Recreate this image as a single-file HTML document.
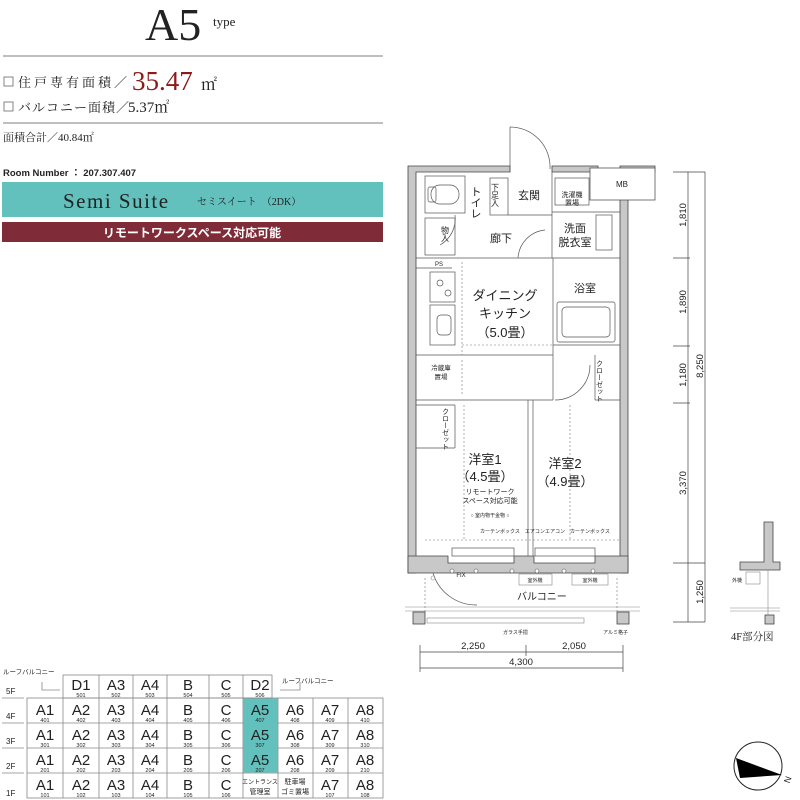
<!DOCTYPE html>
<html><head><meta charset="utf-8"><style>
body{margin:0;background:#fff}
svg{display:block}
text{font-family:"Liberation Sans","Noto Sans CJK JP",sans-serif;fill:#222}
.s{font-family:"Liberation Serif","Noto Serif CJK SC",serif}
.w{fill:#c8c8c8;stroke:#444;stroke-width:.8}
.l{stroke:#555;stroke-width:.7;fill:none}
.d{stroke:#777;stroke-width:.6;fill:none;stroke-dasharray:2 2}
.g{stroke:#888;stroke-width:.6;fill:none}
</style></head><body>
<svg width="800" height="800" viewBox="0 0 800 800" xmlns="http://www.w3.org/2000/svg">
<!-- header -->
<text x="145" y="40" class="s" font-size="46" fill="#222">A5</text>
<text x="213" y="26" class="s" font-size="13">type</text>
<line x1="3" y1="56" x2="383" y2="56" stroke="#999" stroke-width="1.2"/>
<rect x="4" y="77" width="9" height="9" fill="none" stroke="#666" stroke-width=".8"/>
<text x="18" y="87" class="s" font-size="13" letter-spacing="3">住戸専有面積／</text>
<text x="132" y="90" class="s" font-size="27" style="fill:#8b1a1a">35.47</text>
<text x="201" y="90" class="s" font-size="16">㎡</text>
<rect x="4" y="102" width="9" height="9" fill="none" stroke="#666" stroke-width=".8"/>
<text x="18" y="112" class="s" font-size="13" letter-spacing="1">バルコニー面積／</text>
<text x="128" y="112" class="s" font-size="15">5.37㎡</text>
<line x1="3" y1="123" x2="383" y2="123" stroke="#999" stroke-width="1.2"/>
<text x="3" y="141" class="s" font-size="11">面積合計／40.84㎡</text>
<text x="3" y="176" font-size="9.5" font-weight="bold" fill="#333">Room Number ： 207.307.407</text>
<rect x="2" y="182" width="381" height="35" fill="#62c0bd"/>
<text x="63" y="208" class="s" font-size="21" letter-spacing="1.5">Semi Suite</text>
<text x="197" y="205" class="s" font-size="10">セミスイート　（2DK）</text>
<rect x="2" y="222" width="381" height="20" fill="#7f2b38"/>
<text x="192" y="237" font-size="12" font-weight="bold" style="fill:#fff" text-anchor="middle">リモートワークスペース対応可能</text>

<!-- plan walls -->
<path class="w" d="M408 166 H510 V172 H416 V573 H408 Z"/>
<path class="w" d="M552 166 H598 V172 H552 Z"/>
<path class="w" d="M620 166 H655 V172 H628 V573 H620 Z"/>
<rect x="590" y="168" width="65" height="32" fill="#fff" stroke="#555" stroke-width=".8"/>
<text x="622" y="187" font-size="8" text-anchor="middle">MB</text>
<path class="w" d="M408 556 H448 V563 H514 V556 H534 V563 H595 V556 H628 V573 H408 Z"/>
<rect class="w" x="413" y="612" width="12" height="12"/>
<rect class="w" x="617" y="612" width="12" height="12"/>
<!-- top door -->
<line x1="510" y1="127" x2="510" y2="172" class="l"/>
<path d="M510 127 A40 40 0 0 1 550 169" class="l"/>
<!-- interior lines -->
<g class="l">
<rect x="425" y="176" width="40" height="37"/>
<rect x="431" y="185" width="28" height="19" rx="9"/>
<rect x="428" y="187" width="8" height="15" rx="2"/>
<rect x="490" y="178" width="18" height="37"/>
<rect x="555" y="178" width="34" height="27"/>
<line x1="508" y1="215" x2="552" y2="215"/>
<line x1="552" y1="172" x2="552" y2="258"/>
<line x1="552" y1="212" x2="620" y2="212"/>
<rect x="425" y="218" width="30" height="37"/>
<line x1="416" y1="258" x2="620" y2="258"/>
<line x1="416" y1="268" x2="452" y2="268"/>
<line x1="553" y1="258" x2="553" y2="355"/>
<line x1="553" y1="345" x2="620" y2="345"/>
<rect x="557" y="302" width="58" height="40" rx="2"/>
<rect x="562" y="307" width="48" height="30" rx="4"/>
<rect x="596" y="215" width="16" height="35"/>
<rect x="430" y="272" width="25" height="30"/>
<circle cx="440" cy="283" r="3"/><circle cx="448" cy="293" r="3"/>
<rect x="430" y="305" width="25" height="40"/>
<rect x="437" y="315" width="14" height="20" rx="4"/>
<line x1="416" y1="355" x2="553" y2="355"/>
<line x1="416" y1="400" x2="553" y2="400"/>
<line x1="553" y1="355" x2="553" y2="400"/>
<line x1="528" y1="400" x2="528" y2="556"/>
<line x1="533" y1="400" x2="533" y2="556"/>
<line x1="595" y1="355" x2="595" y2="400"/>
<line x1="595" y1="400" x2="620" y2="400"/>
<line x1="416" y1="405" x2="455" y2="405"/>
<line x1="416" y1="448" x2="455" y2="448"/>
<line x1="455" y1="405" x2="455" y2="448"/>
<path d="M455 215 A30 30 0 0 1 440 245"/>
<path d="M545 230 A30 30 0 0 0 518 258"/>
<path d="M433 573 A45 45 0 0 0 477 605"/>
<path d="M590 365 A35 35 0 0 1 555 400"/>
<rect x="452" y="548" width="62" height="8"/>
<rect x="535" y="548" width="60" height="8"/>
</g>
<g class="d">
<line x1="462" y1="262" x2="462" y2="355"/>
<line x1="462" y1="345" x2="553" y2="345"/>
<line x1="464" y1="405" x2="464" y2="540"/>
<line x1="425" y1="540" x2="620" y2="540"/>
<line x1="570" y1="405" x2="570" y2="540"/>
<line x1="462" y1="360" x2="462" y2="395"/>
<line x1="425" y1="578" x2="425" y2="612"/>
<line x1="617" y1="578" x2="617" y2="612"/>
</g>
<!-- balcony -->
<g class="g">
<line x1="405" y1="607" x2="640" y2="607"/>
<line x1="405" y1="611" x2="640" y2="611"/>
<rect x="427" y="618" width="157" height="5"/>
<rect x="519" y="574" width="33" height="11"/>
<rect x="572" y="574" width="36" height="11"/>
</g>
<circle cx="433" cy="578" r="2" class="g"/>
<text x="461" y="577" font-size="6" text-anchor="middle">FIX</text>
<text x="535" y="582" font-size="5" text-anchor="middle">室外機</text>
<text x="590" y="582" font-size="5" text-anchor="middle">室外機</text>
<text x="517" y="600" font-size="10">バルコニー</text>
<text x="503" y="634" font-size="5">ガラス手摺</text>
<text x="603" y="634" font-size="5">アルミ格子</text>
<!-- room labels -->
<text x="475" y="186" font-size="11" writing-mode="tb">トイレ</text>
<text x="495" y="183" font-size="8" writing-mode="tb">下足入</text>
<text x="518" y="199" font-size="11">玄関</text>
<text x="572" y="197" font-size="7" text-anchor="middle">洗濯機</text>
<text x="572" y="205" font-size="7" text-anchor="middle">置場</text>
<text x="445" y="226" font-size="8" writing-mode="tb">物入</text>
<text x="490" y="242" font-size="11">廊下</text>
<text x="575" y="232" font-size="11" text-anchor="middle">洗面</text>
<text x="575" y="246" font-size="11" text-anchor="middle">脱衣室</text>
<text x="435" y="266" font-size="6">PS</text>
<text x="585" y="292" font-size="11" text-anchor="middle">浴室</text>
<text x="505" y="300" font-size="13" text-anchor="middle">ダイニング</text>
<text x="505" y="318" font-size="13" text-anchor="middle">キッチン</text>
<text x="505" y="337" font-size="13" text-anchor="middle">（5.0畳）</text>
<text x="441" y="370" font-size="6.5" text-anchor="middle">冷蔵庫</text>
<text x="441" y="379" font-size="6.5" text-anchor="middle">置場</text>
<text x="599" y="360" font-size="7" writing-mode="tb">クローゼット</text>
<text x="445" y="408" font-size="7" writing-mode="tb">クローゼット</text>
<text x="485" y="464" font-size="13" text-anchor="middle">洋室1</text>
<text x="485" y="481" font-size="13" text-anchor="middle">（4.5畳）</text>
<text x="490" y="494" font-size="7" text-anchor="middle">リモートワーク</text>
<text x="490" y="503" font-size="7" text-anchor="middle">スペース対応可能</text>
<text x="490" y="517" font-size="5" text-anchor="middle">○ 室内物干金物 ○</text>
<text x="565" y="468" font-size="13" text-anchor="middle">洋室2</text>
<text x="565" y="486" font-size="13" text-anchor="middle">（4.9畳）</text>
<text x="480" y="533" font-size="5">カーテンボックス　エアコン</text>
<text x="545" y="533" font-size="5">エアコン　カーテンボックス</text>
<g fill="#fff" stroke="#555" stroke-width=".6">
<circle cx="452" cy="571" r="2"/><circle cx="476" cy="571" r="2"/><circle cx="512" cy="571" r="2"/><circle cx="537" cy="571" r="2"/><circle cx="564" cy="571" r="2"/><circle cx="593" cy="571" r="2"/>
</g>
<!-- dimensions -->
<g stroke="#444" stroke-width=".7">
<line x1="688" y1="172" x2="688" y2="622"/>
<line x1="705" y1="172" x2="705" y2="622"/>
<line x1="673" y1="172" x2="705" y2="172"/>
<line x1="673" y1="258" x2="690" y2="258"/>
<line x1="673" y1="346" x2="690" y2="346"/>
<line x1="673" y1="403" x2="690" y2="403"/>
<line x1="673" y1="563" x2="705" y2="563"/>
<line x1="673" y1="622" x2="705" y2="622"/>
<line x1="420" y1="652" x2="623" y2="652"/>
<line x1="420" y1="668" x2="623" y2="668"/>
<line x1="420" y1="645" x2="420" y2="672"/>
<line x1="526" y1="645" x2="526" y2="656"/>
<line x1="623" y1="645" x2="623" y2="672"/>
</g>
<g font-size="9.5">
<text transform="translate(686 215) rotate(-90)" text-anchor="middle">1,810</text>
<text transform="translate(686 302) rotate(-90)" text-anchor="middle">1,890</text>
<text transform="translate(686 375) rotate(-90)" text-anchor="middle">1,180</text>
<text transform="translate(703 366) rotate(-90)" text-anchor="middle">8,250</text>
<text transform="translate(686 483) rotate(-90)" text-anchor="middle">3,370</text>
<text transform="translate(703 592) rotate(-90)" text-anchor="middle">1,250</text>
<text x="473" y="649" text-anchor="middle">2,250</text>
<text x="574" y="649" text-anchor="middle">2,050</text>
<text x="521" y="665" text-anchor="middle">4,300</text>
</g>
<!-- 4F partial -->
<path class="w" d="M764 522 H773 V562 H780 V570 H740 V562 H764 Z"/>
<rect class="w" x="765" y="615" width="9" height="9"/>
<g class="g"><line x1="768" y1="570" x2="768" y2="615"/><line x1="730" y1="608" x2="780" y2="608"/><line x1="730" y1="611" x2="780" y2="611"/><rect x="746" y="572" width="14" height="12"/></g>
<text x="732" y="582" font-size="5">外機</text>
<text x="731" y="640" class="s" font-size="10.5">4F部分図</text>
<!-- compass -->
<circle cx="758" cy="766" r="24" fill="none" stroke="#222" stroke-width="1"/>
<path d="M736 758 L782 775 L740 778 Z" fill="#000"/>
<text x="784" y="782" font-size="9" transform="rotate(-70 788 779)">N</text>

<!-- floor grid -->
<g font-size="14" text-anchor="middle">
<g stroke="#888" stroke-width=".8" fill="none">
<rect x="63" y="675" width="209" height="23"/>
<line x1="99" y1="675" x2="99" y2="698"/><line x1="133" y1="675" x2="133" y2="698"/><line x1="167" y1="675" x2="167" y2="698"/><line x1="209" y1="675" x2="209" y2="698"/><line x1="243" y1="675" x2="243" y2="698"/>
<rect x="27" y="698" width="356" height="100"/>
<line x1="27" y1="723" x2="383" y2="723"/><line x1="27" y1="748" x2="383" y2="748"/><line x1="27" y1="773" x2="383" y2="773"/>
<line x1="63" y1="698" x2="63" y2="798"/><line x1="99" y1="698" x2="99" y2="798"/><line x1="133" y1="698" x2="133" y2="798"/><line x1="167" y1="698" x2="167" y2="798"/><line x1="209" y1="698" x2="209" y2="798"/><line x1="243" y1="698" x2="243" y2="798"/><line x1="278" y1="698" x2="278" y2="798"/><line x1="313" y1="698" x2="313" y2="798"/><line x1="348" y1="698" x2="348" y2="798"/>
<line x1="2" y1="698" x2="24" y2="698"/><line x1="2" y1="723" x2="24" y2="723"/><line x1="2" y1="748" x2="24" y2="748"/><line x1="2" y1="773" x2="24" y2="773"/>
<path d="M42 682 V690 H60"/><path d="M300 682 V690 H280"/>
</g>
<rect x="243.5" y="698.5" width="34" height="74" fill="#62c0bd"/>
</g>
<g font-size="8" fill="#444">
<text x="3" y="674" font-size="6.5">ルーフバルコニー</text>
<text x="282" y="683" font-size="6.5">ルーフバルコニー</text>
<text x="6" y="694">5F</text><text x="6" y="719">4F</text><text x="6" y="744">3F</text><text x="6" y="769">2F</text><text x="6" y="796">1F</text>
</g>
<g text-anchor="middle">
<g font-size="15">
<text x="81" y="690">D1</text><text x="116" y="690">A3</text><text x="150" y="690">A4</text><text x="188" y="690">B</text><text x="226" y="690">C</text><text x="260" y="690">D2</text>
</g>
<g font-size="5.5">
<text x="81" y="697">501</text><text x="116" y="697">502</text><text x="150" y="697">503</text><text x="188" y="697">504</text><text x="226" y="697">505</text><text x="260" y="697">506</text>
</g>
<g font-size="15">
<text x="45" y="715">A1</text><text x="81" y="715">A2</text><text x="116" y="715">A3</text><text x="150" y="715">A4</text><text x="188" y="715">B</text><text x="226" y="715">C</text><text x="260" y="715">A5</text><text x="295" y="715">A6</text><text x="330" y="715">A7</text><text x="365" y="715">A8</text>
<text x="45" y="740">A1</text><text x="81" y="740">A2</text><text x="116" y="740">A3</text><text x="150" y="740">A4</text><text x="188" y="740">B</text><text x="226" y="740">C</text><text x="260" y="740">A5</text><text x="295" y="740">A6</text><text x="330" y="740">A7</text><text x="365" y="740">A8</text>
<text x="45" y="765">A1</text><text x="81" y="765">A2</text><text x="116" y="765">A3</text><text x="150" y="765">A4</text><text x="188" y="765">B</text><text x="226" y="765">C</text><text x="260" y="765">A5</text><text x="295" y="765">A6</text><text x="330" y="765">A7</text><text x="365" y="765">A8</text>
<text x="45" y="790">A1</text><text x="81" y="790">A2</text><text x="116" y="790">A3</text><text x="150" y="790">A4</text><text x="188" y="790">B</text><text x="226" y="790">C</text><text x="330" y="790">A7</text><text x="365" y="790">A8</text>
</g>
<g font-size="5.5">
<text x="45" y="722">401</text><text x="81" y="722">402</text><text x="116" y="722">403</text><text x="150" y="722">404</text><text x="188" y="722">405</text><text x="226" y="722">406</text><text x="260" y="722">407</text><text x="295" y="722">408</text><text x="330" y="722">409</text><text x="365" y="722">410</text>
<text x="45" y="747">301</text><text x="81" y="747">302</text><text x="116" y="747">303</text><text x="150" y="747">304</text><text x="188" y="747">305</text><text x="226" y="747">306</text><text x="260" y="747">307</text><text x="295" y="747">308</text><text x="330" y="747">309</text><text x="365" y="747">310</text>
<text x="45" y="772">201</text><text x="81" y="772">202</text><text x="116" y="772">203</text><text x="150" y="772">204</text><text x="188" y="772">205</text><text x="226" y="772">206</text><text x="260" y="772">207</text><text x="295" y="772">208</text><text x="330" y="772">209</text><text x="365" y="772">210</text>
<text x="45" y="797">101</text><text x="81" y="797">102</text><text x="116" y="797">103</text><text x="150" y="797">104</text><text x="188" y="797">105</text><text x="226" y="797">106</text><text x="330" y="797">107</text><text x="365" y="797">108</text>
</g>
<g font-size="7">
<text x="260" y="784" font-size="6">エントランス</text><text x="260" y="794">管理室</text>
<text x="295" y="784">駐車場</text><text x="295" y="794">ゴミ置場</text>
</g>
</g>
</svg>
</body></html>
